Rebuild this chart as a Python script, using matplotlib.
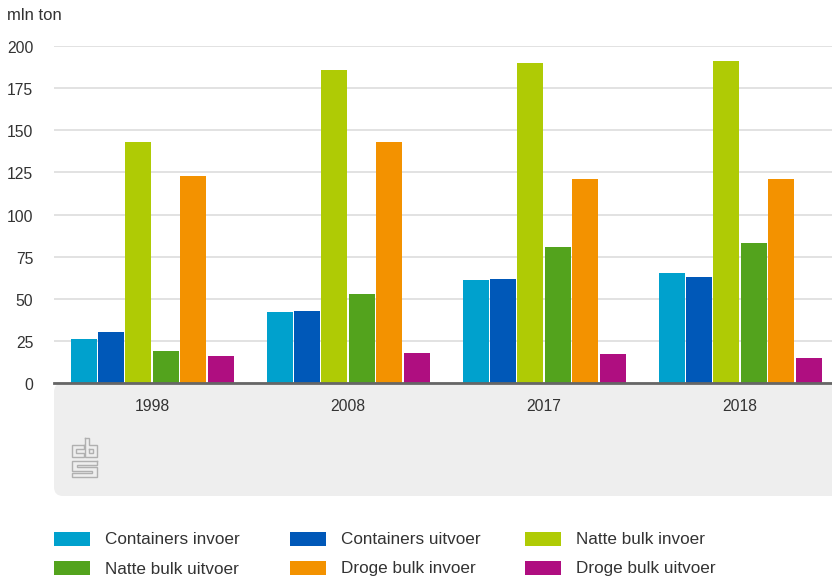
import matplotlib
matplotlib.use("Agg")
import matplotlib.pyplot as plt
from matplotlib.patches import FancyBboxPatch, Rectangle
from matplotlib.lines import Line2D
from matplotlib.transforms import ScaledTranslation

plt.rcParams['font.family'] = ['Liberation Sans', 'DejaVu Sans']

years = ['1998', '2008', '2017', '2018']
series_names = ['Containers invoer', 'Containers uitvoer', 'Natte bulk invoer',
                'Natte bulk uitvoer', 'Droge bulk invoer', 'Droge bulk uitvoer']
containers_invoer = [26, 42, 61, 65]
containers_uitvoer = [30, 43, 62, 63]
natte_invoer = [143, 186, 190, 191]
natte_uitvoer = [19, 53, 81, 83]
droge_invoer = [123, 143, 121, 121]
droge_uitvoer = [16, 18, 17, 15]
colors = ['#00a1cd', '#0058b8', '#afcb05', '#53a31d', '#f39200', '#af0e80']
yticks = [0, 25, 50, 75, 100, 125, 150, 175, 200]

W, H = 832, 576
TXT = '#333333'
fig = plt.figure(figsize=(W / 100, H / 100), dpi=100, facecolor='white')


def fx(px):
    return px / W


def fy(py):
    return 1 - py / H


# gray footer panel beneath the plot, with the rounded lower-left corner
panel = FancyBboxPatch((54, H - 496), 800, 113,
                       boxstyle='round,pad=0,rounding_size=9',
                       transform=None, facecolor='#eeeeee',
                       edgecolor='none', zorder=-5)
fig.add_artist(panel)

left, right, top, bottom = 54, 832, 46, 383
ax = fig.add_axes([fx(left), fy(bottom), fx(right - left), (bottom - top) / H], zorder=2)
ax.patch.set_alpha(0)
ax.set_ylim(0, 200)
ax.set_xlim(-0.5, -0.5 + (right - left) / 196)

all_series = [containers_invoer, containers_uitvoer, natte_invoer,
              natte_uitvoer, droge_invoer, droge_uitvoer]
slot = 27.4 / 196
for i, (vals, c) in enumerate(zip(all_series, colors)):
    xs = [k + (i - 2.5) * slot for k in range(len(years))]
    ax.bar(xs, vals, width=26 / 196, color=c, zorder=3, linewidth=0)

ax.set_yticks(yticks)
ax.set_xticks(range(len(years)), years)
ax.yaxis.grid(True, color='#dddddd', linewidth=1.2, zorder=1)
ax.set_axisbelow(True)
for s in ['top', 'right', 'left']:
    ax.spines[s].set_visible(False)
ax.spines['bottom'].set_color('#666666')
ax.spines['bottom'].set_linewidth(2)
ax.spines['bottom'].set_zorder(5)
ax.tick_params(axis='both', length=0, labelsize=11.3, labelcolor=TXT)
ax.tick_params(axis='x', pad=11.5)
ax.tick_params(axis='y', pad=15)
# nudge the value labels slightly below their gridlines
nudge = ScaledTranslation(0, -1 / 100, fig.dpi_scale_trans)
for lab in ax.get_yticklabels():
    lab.set_transform(lab.get_transform() + nudge)

fig.text(fx(7), fy(16), 'mln ton', fontsize=12, color=TXT, va='center', ha='left')

# CBS logo: rectilinear strokes in pixel space
logo = [
    [(84, 445), (72, 445), (72, 457), (84, 457), (84, 453), (76, 453), (76, 449), (84, 449), (84, 445)],
    [(85, 438), (89, 438), (89, 445), (97, 445), (97, 457), (85, 457), (85, 438)],
    [(89, 449), (93, 449), (93, 453), (89, 453), (89, 449)],
    [(97, 461), (72, 461), (72, 471), (92, 471), (92, 473), (72, 473), (72, 477), (97, 477),
     (97, 467), (77, 467), (77, 465), (97, 465), (97, 461)],
]
for path in logo:
    fig.add_artist(Line2D([fx(p[0]) for p in path], [fy(p[1]) for p in path],
                          color='#b0b0b0', linewidth=1.0, solid_joinstyle='miter'))

# legend laid out in three columns
col_x = [54, 290, 525]
row_y = [539, 568]
for i, (name, c) in enumerate(zip(series_names, colors)):
    x = col_x[i % 3]
    y = row_y[i // 3]
    fig.add_artist(Rectangle((fx(x), fy(y + 7)), 36 / W, 14 / H, facecolor=c,
                             edgecolor='none', transform=fig.transFigure))
    fig.text(fx(x + 51), fy(y + 1), name, fontsize=12.3, color=TXT, va='center', ha='left')

fig.savefig('out.png', dpi=100)
